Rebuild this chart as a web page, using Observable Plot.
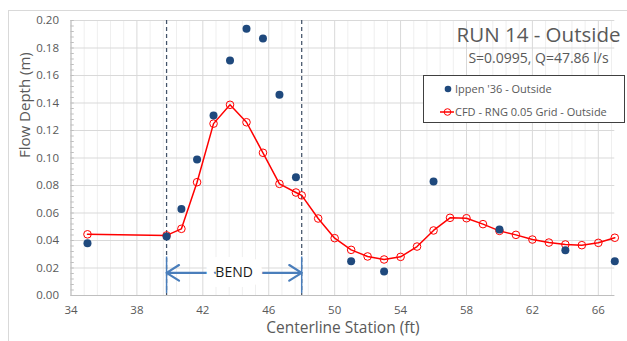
<!DOCTYPE html>
<html><head><meta charset="utf-8">
<script src="https://cdn.jsdelivr.net/npm/d3@7"></script>
<script src="https://cdn.jsdelivr.net/npm/@observablehq/plot@0.6"></script>
<style>
html,body{margin:0;padding:0;background:#fff;overflow:hidden;}
#wrap{position:relative;width:627px;height:341px;overflow:hidden;font-family:"Open Sans",sans-serif;}
#frame{position:absolute;left:8px;top:10px;width:700px;height:400px;border:1px solid #d9d9d9;box-sizing:border-box;}
#chart{position:absolute;left:0;top:0;}
#legend{position:absolute;left:423px;top:75px;width:202px;height:48px;border:1.5px solid #404040;background:#fff;box-sizing:border-box;}
</style></head>
<body><div id="wrap"><div id="frame"></div><div id="chart"></div><div id="legend"></div></div>
<script>
// ---- data ----
const ippenX = [35, 39.8, 40.7, 41.65, 42.65, 43.65, 44.65, 45.65, 46.65, 47.65, 51, 53, 56, 60, 64, 67];
const ippenY = [0.038, 0.043, 0.063, 0.099, 0.131, 0.171, 0.194, 0.187, 0.146, 0.086, 0.025, 0.0175, 0.083, 0.048, 0.033, 0.025];
const cfdX = [35, 39.8, 40.7, 41.65, 42.65, 43.65, 44.65, 45.65, 46.65, 47.65, 48, 49, 50, 51, 52, 53, 54, 55, 56, 57, 58, 59, 60, 61, 62, 63, 64, 65, 66, 67];
const cfdY = [0.0445, 0.0437, 0.0485, 0.0824, 0.125, 0.1387, 0.126, 0.1038, 0.0812, 0.0749, 0.0728, 0.056, 0.0417, 0.0332, 0.0284, 0.0262, 0.0281, 0.0356, 0.0473, 0.0565, 0.0562, 0.0519, 0.047, 0.0441, 0.0407, 0.0385, 0.0371, 0.0366, 0.0383, 0.042];
const bendX = [39.8, 48];
const bendLabel = "BEND";
const bendArrowY = 0.0165;
const xTicks = [34, 38, 42, 46, 50, 54, 58, 62, 66];
const yTicks = [0, 0.02, 0.04, 0.06, 0.08, 0.10, 0.12, 0.14, 0.16, 0.18, 0.20];
const titleText = "RUN 14 - Outside";
const subtitleText = "S=0.0995, Q=47.86 l/s";
const seriesNames = ["Ippen '36 - Outside", "CFD - RNG 0.05 Grid - Outside"];

const ippen = ippenX.map((x, i) => ({x, y: ippenY[i]}));
const cfd = cfdX.map((x, i) => ({x, y: cfdY[i]}));
const xMinor = d3.range(0, 42).map(i => 34 + i * 0.8).filter(v => v <= 67 && Math.abs((v - 34) % 4) > 0.01 && Math.abs((v - 34) % 4 - 4) > 0.01);
const yMinor = d3.range(0, 51).map(i => i * 0.004);
const bendMid = (bendX[0] + bendX[1]) / 2;

const blue = "#1f497d", red = "#ff0000", arrowBlue = "#4a7ebb", grey = "#595959";
const font = "'Open Sans', sans-serif";

const chart = Plot.plot({
  width: 627, height: 341,
  marginLeft: 70.5, marginRight: 12.7, marginTop: 20, marginBottom: 46,
  style: {fontFamily: font, fontSize: "11.5px", color: grey, background: "transparent"},
  x: {domain: [34, 67]},
  y: {domain: [0, 0.2]},
  marks: [
    Plot.ruleX(xMinor, {stroke: "#efefef", strokeWidth: 1}),
    Plot.ruleX(xTicks, {stroke: "#d9d9d9", strokeWidth: 1}),
    Plot.ruleY(yTicks, {stroke: "#d9d9d9", strokeWidth: 1}),
    Plot.ruleY(yMinor, {x1: 34, x2: 34.2, stroke: "#bfbfbf"}),
    Plot.ruleY([0], {stroke: "#bfbfbf"}),
    Plot.ruleX([34], {stroke: "#bfbfbf"}),
    Plot.axisX({ticks: xTicks, tickSize: 0, tickPadding: 10, tickFormat: d => d, label: null, fontSize: 11.5}),
    Plot.axisY({ticks: yTicks, tickSize: 0, tickPadding: 12, tickFormat: d3.format(".2f"), label: null, fontSize: 11.5}),
    Plot.text(["Flow Depth (m)"], {frameAnchor: "left", rotate: -90, dx: -46, fontSize: 15, fill: grey}),
    Plot.text(["Centerline Station (ft)"], {frameAnchor: "bottom", dy: 37, fontSize: 15.5, fill: grey}),
    Plot.ruleX(bendX, {stroke: "#44546a", strokeDasharray: "4,3", strokeWidth: 1.25}),
    Plot.ruleX(bendX, {y1: 0.0015, y2: 0.028, stroke: arrowBlue, strokeWidth: 1.5}),
    Plot.arrow([{a: bendMid, b: bendX[0]}, {a: bendMid, b: bendX[1]}], {x1: "a", x2: "b", y1: bendArrowY, y2: bendArrowY, stroke: arrowBlue, strokeWidth: 2.2, headLength: 10, headAngle: 64}),
    Plot.text([bendLabel], {x: bendMid, y: bendArrowY, fontSize: 14, fill: "#fff", stroke: "#fff", strokeWidth: 20}),
    Plot.text([bendLabel], {x: bendMid, y: bendArrowY, fontSize: 14, fill: "#1a1a1a"}),
    Plot.line(cfd, {x: "x", y: "y", stroke: red, strokeWidth: 1.5}),
    Plot.dot(cfd, {x: "x", y: "y", r: 3.8, stroke: red, strokeWidth: 1, fill: "none"}),
    Plot.dot(ippen, {x: "x", y: "y", r: 4, fill: blue, stroke: "none"}),
    Plot.text([titleText], {frameAnchor: "top", dx: 195.6, dy: 7, fontSize: 20.5, fill: grey}),
    Plot.text([subtitleText], {frameAnchor: "top", dx: 195.6, dy: 33, fontSize: 14, fill: grey})
  ]
});
document.getElementById("chart").appendChild(chart);

// legend
const lg = d3.select("#legend").append("svg").attr("width", 199).attr("height", 45)
  .style("font-family", font).style("font-size", "11px");
lg.append("circle").attr("cx", 24).attr("cy", 13).attr("r", 3.3).attr("fill", blue);
lg.append("text").attr("x", 31).attr("y", 13).attr("dy", "0.35em").attr("fill", grey).text(seriesNames[0]);
lg.append("line").attr("x1", 16).attr("x2", 30).attr("y1", 36).attr("y2", 36).attr("stroke", red).attr("stroke-width", 1.5);
lg.append("circle").attr("cx", 23.5).attr("cy", 36).attr("r", 3.3).attr("fill", "none").attr("stroke", red);
lg.append("text").attr("x", 31).attr("y", 36).attr("dy", "0.35em").attr("fill", grey).text(seriesNames[1]);
</script>
</body></html>
